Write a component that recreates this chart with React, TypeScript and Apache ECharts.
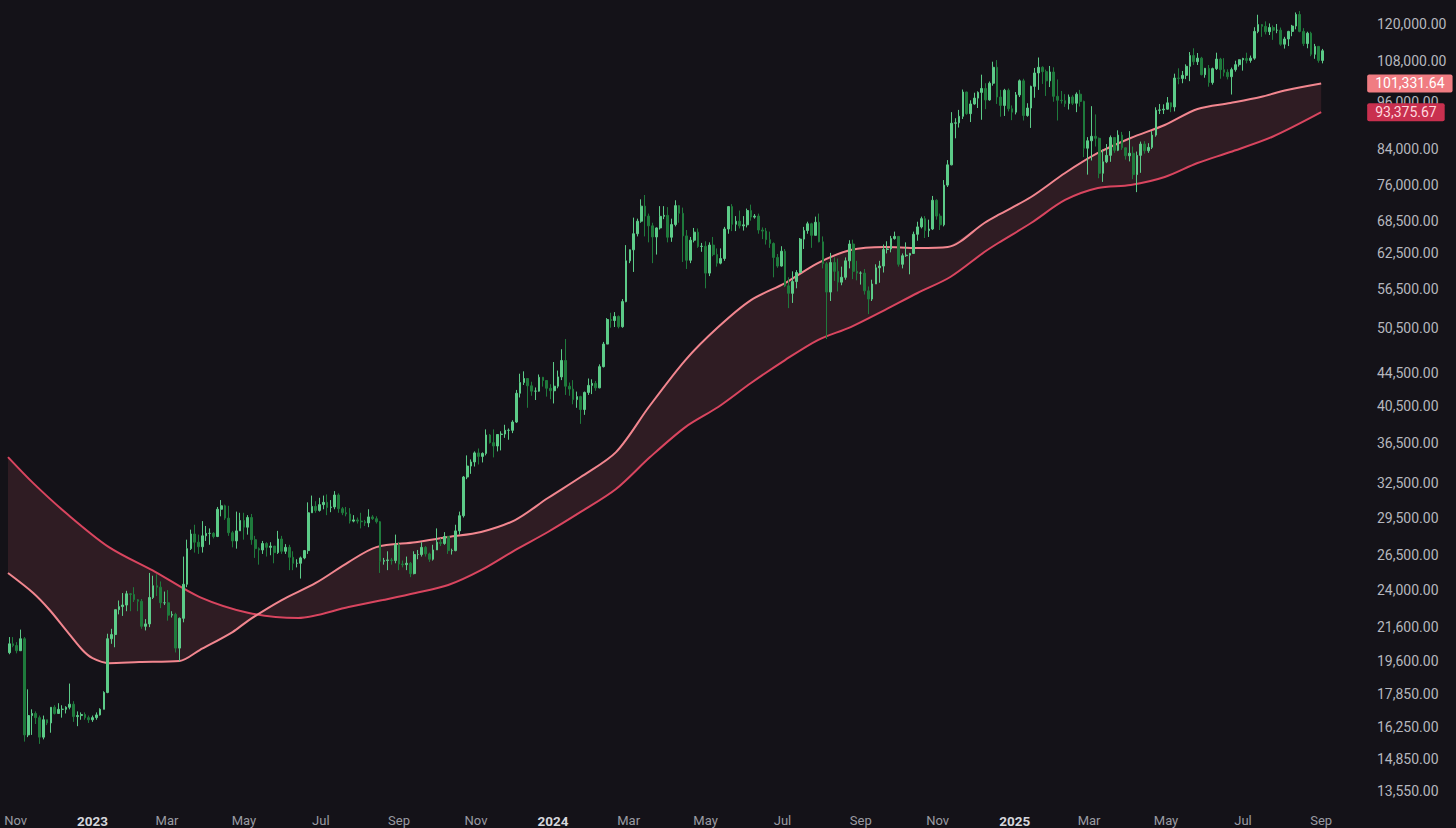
import React, { useEffect, useRef } from "react";
import * as echarts from "echarts";

// ---------- DATA (prices in thousands of USD, 3-day candles from 2022-10-26) ----------
const CANDLE_START = "2022-10-26";
const CANDLE_DAYS = 3;
const FIRST_OPEN = 20.09;

const closes = [
  20.6, 20.5, 20.2, 20.9, 15.9, 16.8, 16.9, 16.7, 15.8, 16.6,
  16.45, 17.2, 16.9, 17.1, 17.1, 17.2, 17.35, 16.75, 16.8, 16.85,
  16.7, 16.6, 16.7, 16.83, 17.1, 17.94, 20.9, 21.15, 22.7, 22.9,
  23.0, 23.75, 23.7, 23.35, 23.25, 21.65, 21.8, 23.5, 24.3, 24.2,
  23.15, 23.15, 22.35, 22.4, 20.35, 22.15, 24.4, 27.0, 28.15, 27.5,
  27.15, 28.0, 28.2, 28.2, 27.95, 30.2, 30.5, 29.45, 28.25, 27.6,
  28.4, 29.25, 28.7, 29.5, 27.7, 27.0, 26.9, 27.4, 27.1, 27.2,
  26.7, 27.75, 26.8, 27.1, 26.35, 25.9, 25.9, 26.3, 26.85, 29.9,
  30.45, 30.1, 30.6, 30.8, 30.35, 30.4, 31.45, 30.25, 29.9, 29.8,
  29.2, 29.3, 29.2, 29.15, 29.05, 29.55, 29.4, 29.15, 26.05, 26.1,
  26.15, 26.1, 27.3, 25.85, 25.8, 25.9, 25.15, 26.55, 26.55, 27.1,
  26.6, 26.2, 26.9, 27.5, 27.4, 27.95, 26.85, 26.85, 28.4, 29.65,
  33.1, 34.15, 34.55, 35.45, 35.1, 35.4, 37.3, 36.5, 36.15, 37.35,
  37.4, 37.8, 37.8, 38.7, 42.0, 43.3, 43.8, 42.9, 42.25, 42.25,
  43.95, 43.55, 42.6, 42.3, 42.85, 44.0, 46.1, 42.85, 42.5, 41.25,
  41.6, 40.1, 42.1, 42.95, 43.2, 42.65, 45.3, 48.3, 51.8, 51.65,
  52.25, 50.75, 54.5, 61.2, 63.15, 66.1, 68.5, 71.5, 69.5, 67.6,
  65.5, 67.2, 69.45, 69.65, 65.45, 67.85, 71.6, 70.05, 65.7, 61.3,
  64.9, 66.4, 63.75, 63.8, 59.1, 64.0, 62.3, 60.8, 61.6, 67.0,
  71.4, 67.9, 68.5, 67.6, 67.8, 70.6, 69.3, 69.5, 66.8, 66.6,
  65.0, 64.3, 61.8, 60.3, 62.9, 57.0, 55.8, 57.7, 59.2, 65.1,
  66.7, 68.0, 65.8, 68.3, 64.6, 60.7, 56.0, 60.9, 59.4, 57.6,
  58.4, 61.2, 64.2, 59.4, 59.1, 59.1, 56.2, 54.9, 57.3, 60.0,
  60.3, 63.2, 63.3, 65.2, 65.6, 60.6, 62.1, 62.2, 62.5, 66.0,
  67.4, 69.0, 66.7, 67.0, 72.7, 69.5, 67.8, 75.9, 80.4, 90.5,
  90.6, 92.3, 98.9, 93.0, 95.6, 97.2, 98.8, 99.9, 96.7, 101.4,
  106.1, 97.5, 95.2, 99.4, 94.3, 93.4, 98.1, 102.1, 92.5, 94.5,
  100.5, 104.4, 106.1, 104.8, 102.1, 104.7, 97.7, 96.6, 96.5, 95.7,
  97.5, 95.8, 98.3, 96.3, 84.3, 86.1, 87.2, 86.7, 78.5, 81.1,
  82.6, 86.9, 83.8, 87.5, 84.4, 82.5, 83.1, 78.2, 82.6, 85.3,
  83.7, 84.5, 87.5, 93.9, 94.0, 94.2, 95.9, 94.8, 102.9, 102.8,
  103.7, 106.4, 109.7, 107.8, 108.9, 103.9, 105.8, 101.6, 105.7, 108.6,
  105.4, 104.6, 103.3, 105.4, 106.9, 108.4, 108.8, 108.2, 108.9, 117.5,
  119.8, 119.2, 117.4, 118.8, 117.9, 117.9, 113.3, 115.0, 117.5, 119.3,
  123.3, 117.5, 113.5, 116.9, 110.1, 112.6, 108.2, 111.2,
];

const highs = [
  21.0, 21.0, 20.7, 21.45, 21.0, 18.1, 17.1, 17.0, 16.8, 16.8,
  16.6, 17.2, 17.3, 17.4, 17.3, 17.25, 18.4, 17.5, 17.0, 16.95,
  16.95, 16.8, 16.8, 16.95, 17.15, 18.0, 21.2, 21.5, 22.7, 23.3,
  23.8, 23.95, 23.8, 24.2, 23.4, 23.4, 22.1, 25.2, 25.0, 25.1,
  24.6, 23.9, 24.0, 22.6, 22.5, 22.2, 26.4, 27.7, 28.5, 28.9,
  28.1, 29.2, 28.8, 28.6, 28.3, 30.4, 31.0, 30.6, 30.5, 28.4,
  30.0, 29.9, 29.9, 29.7, 29.8, 28.0, 27.1, 27.6, 27.5, 27.5,
  27.2, 28.4, 28.0, 27.35, 27.3, 26.8, 26.2, 26.4, 26.9, 30.8,
  31.4, 30.9, 31.2, 31.4, 31.5, 31.0, 31.8, 31.6, 30.4, 30.4,
  30.3, 29.7, 29.5, 29.9, 29.3, 30.2, 29.7, 29.6, 29.2, 26.3,
  26.8, 26.3, 28.1, 27.5, 26.1, 26.4, 26.0, 26.8, 26.9, 27.5,
  27.2, 26.7, 27.3, 28.6, 27.8, 28.3, 28.0, 27.0, 28.9, 30.0,
  33.2, 35.2, 34.8, 35.6, 35.9, 35.5, 37.9, 37.4, 37.9, 37.4,
  37.7, 38.4, 38.0, 38.9, 42.4, 44.4, 44.7, 43.8, 43.4, 42.7,
  44.3, 44.0, 43.6, 43.1, 45.9, 44.8, 47.6, 49.0, 43.3, 43.6,
  42.2, 41.7, 42.2, 43.8, 43.7, 43.5, 45.6, 48.6, 52.0, 52.8,
  52.9, 52.4, 54.9, 64.0, 63.2, 69.2, 69.0, 72.9, 73.8, 70.0,
  68.2, 67.3, 71.5, 71.5, 71.3, 69.0, 72.7, 71.7, 71.2, 66.8,
  65.5, 67.2, 67.1, 64.4, 64.7, 64.5, 65.5, 63.4, 63.4, 67.4,
  71.5, 71.9, 69.5, 70.6, 69.5, 71.0, 71.8, 69.9, 70.0, 67.3,
  67.2, 66.5, 64.5, 62.4, 63.8, 63.3, 58.4, 59.4, 59.6, 65.3,
  67.4, 68.4, 68.2, 69.4, 70.0, 65.6, 61.0, 62.6, 61.8, 61.6,
  60.2, 61.8, 64.9, 65.0, 61.2, 59.4, 59.8, 56.9, 58.0, 60.6,
  61.2, 64.1, 64.7, 65.7, 66.5, 65.6, 62.5, 64.5, 62.6, 66.5,
  68.4, 69.4, 69.5, 68.8, 73.6, 72.9, 70.0, 77.0, 81.5, 93.4,
  91.8, 94.0, 99.6, 99.0, 96.6, 98.7, 99.1, 103.9, 101.4, 101.9,
  107.8, 108.3, 99.5, 99.8, 99.9, 95.2, 98.9, 102.5, 102.7, 95.8,
  100.7, 105.9, 109.1, 106.4, 105.4, 106.5, 106.1, 102.5, 99.2, 98.3,
  98.2, 98.0, 98.8, 99.5, 96.5, 87.0, 95.0, 92.8, 86.9, 84.0,
  85.3, 87.4, 87.0, 88.7, 88.3, 84.5, 88.5, 84.7, 83.5, 85.9,
  86.0, 85.5, 88.5, 94.7, 95.6, 95.5, 97.5, 96.0, 104.2, 105.8,
  105.0, 107.0, 110.8, 112.0, 110.5, 109.3, 105.9, 106.8, 106.0, 110.6,
  109.0, 108.9, 105.5, 106.0, 108.1, 108.5, 109.0, 110.6, 109.7, 118.9,
  123.2, 120.0, 120.9, 120.2, 119.5, 120.0, 118.8, 115.7, 117.7, 119.7,
  124.0, 124.5, 118.6, 117.4, 117.4, 113.4, 112.7, 111.8,
];

const lows = [
  20.0, 20.4, 20.05, 20.2, 15.6, 15.8, 15.9, 16.4, 15.5, 15.7,
  16.35, 16.0, 16.85, 16.9, 16.7, 16.9, 17.1, 16.5, 16.3, 16.6,
  16.6, 16.45, 16.5, 16.6, 16.8, 17.1, 17.9, 20.6, 20.4, 22.4,
  22.3, 22.6, 22.6, 23.2, 22.6, 21.5, 21.4, 21.6, 23.4, 23.6,
  22.8, 23.0, 22.0, 22.2, 20.1, 19.6, 21.9, 24.2, 26.9, 26.7,
  26.6, 26.7, 27.6, 27.3, 27.8, 27.9, 29.6, 29.3, 28.0, 27.1,
  27.0, 28.4, 27.7, 28.1, 27.3, 26.3, 25.8, 26.6, 26.4, 26.5,
  25.9, 26.6, 26.6, 26.6, 25.4, 25.4, 25.6, 24.8, 26.2, 26.6,
  29.9, 29.9, 30.0, 30.2, 29.7, 29.95, 30.2, 29.9, 29.7, 29.6,
  29.0, 29.1, 29.0, 28.6, 28.8, 28.7, 29.3, 29.0, 25.2, 25.8,
  25.4, 25.8, 25.9, 25.4, 25.6, 25.4, 24.9, 25.1, 26.2, 26.4,
  26.4, 26.0, 26.1, 26.9, 27.2, 27.3, 26.6, 26.55, 26.8, 28.1,
  29.5, 32.9, 33.4, 34.1, 34.3, 34.5, 35.2, 36.4, 35.0, 35.6,
  35.7, 37.0, 36.8, 37.5, 38.6, 41.5, 43.0, 40.3, 41.7, 41.2,
  42.2, 42.8, 41.6, 41.3, 40.8, 42.6, 43.6, 41.8, 41.7, 40.7,
  40.3, 38.5, 39.5, 41.8, 41.9, 42.3, 42.6, 45.2, 48.3, 50.6,
  50.7, 50.5, 50.6, 54.4, 60.8, 59.3, 65.6, 68.2, 65.6, 64.5,
  60.8, 62.3, 66.9, 68.9, 64.5, 64.6, 67.5, 68.2, 61.0, 59.8,
  60.8, 64.5, 63.5, 62.8, 56.6, 58.6, 62.0, 60.2, 60.6, 61.2,
  66.1, 66.6, 66.6, 67.1, 66.7, 67.3, 68.6, 69.0, 66.1, 65.1,
  64.1, 63.5, 58.4, 60.0, 60.2, 56.8, 53.5, 54.3, 56.6, 59.1,
  63.3, 66.1, 63.5, 65.8, 64.5, 59.9, 49.0, 54.6, 57.8, 56.1,
  57.1, 58.0, 59.9, 58.1, 57.9, 57.2, 55.6, 52.6, 54.6, 57.3,
  57.5, 59.2, 62.5, 62.7, 65.0, 60.2, 59.9, 61.9, 58.9, 62.4,
  64.8, 67.1, 65.3, 65.5, 66.8, 68.8, 66.8, 67.5, 75.5, 80.3,
  86.7, 89.4, 91.6, 92.7, 90.8, 95.4, 94.5, 91.4, 94.2, 96.5,
  100.7, 95.6, 92.2, 92.4, 93.6, 91.3, 92.8, 97.5, 91.2, 92.2,
  89.3, 97.3, 99.5, 101.2, 97.8, 100.3, 96.2, 91.2, 95.7, 94.8,
  94.1, 95.3, 93.4, 94.9, 82.2, 78.2, 81.4, 84.7, 77.4, 76.6,
  80.8, 81.1, 83.2, 83.6, 83.9, 81.6, 81.2, 77.2, 74.4, 78.6,
  83.0, 83.2, 84.1, 87.1, 92.9, 92.9, 94.1, 93.4, 93.6, 101.1,
  101.4, 102.6, 102.0, 106.8, 106.8, 103.7, 103.0, 100.4, 101.0, 105.3,
  102.7, 103.4, 102.5, 98.2, 104.8, 106.3, 105.1, 107.3, 107.5, 108.4,
  116.9, 115.7, 116.5, 116.3, 114.7, 116.9, 112.8, 111.9, 112.7, 115.9,
  118.2, 117.2, 112.7, 112.0, 109.5, 108.7, 107.5, 107.3,
];

// 200-day SMA (lighter line)
const ma200Dates = [
  "2022-10-26", "2022-11-15", "2022-11-28", "2022-12-11", "2022-12-24", "2023-01-01", "2023-01-14",
  "2023-02-07", "2023-03-11", "2023-03-27", "2023-04-22", "2023-05-05", "2023-05-31", "2023-06-27",
  "2023-07-23", "2023-08-14", "2023-09-14", "2023-10-10", "2023-11-05", "2023-12-02", "2023-12-28",
  "2024-01-23", "2024-02-20", "2024-03-17", "2024-04-15", "2024-05-11", "2024-06-06", "2024-07-03",
  "2024-07-29", "2024-08-24", "2024-09-20", "2024-10-16", "2024-11-09", "2024-12-08", "2024-12-19",
  "2025-01-14", "2025-02-10", "2025-03-08", "2025-04-03", "2025-04-30", "2025-05-26", "2025-06-21",
  "2025-07-15", "2025-08-05", "2025-09-01",
];
const ma200Values = [
  25190, 23800, 22680, 21420, 20240, 19780, 19500,
  19560, 19620, 20240, 21300, 22040, 23330, 24490,
  25990, 27120, 27500, 27910, 28310, 29290, 31180,
  33100, 35530, 40390, 46160, 50700, 54740, 57460,
  60820, 63110, 63650, 63470, 63650, 68150, 69720,
  73380, 78560, 83160, 86790, 90050, 94240, 95860,
  97510, 99470, 101331.64,
];

// 365-day SMA (darker line)
const ma365Dates = [
  "2022-10-26", "2022-11-15", "2022-12-11", "2023-01-14", "2023-02-20", "2023-03-27", "2023-05-05",
  "2023-06-13", "2023-07-23", "2023-08-19", "2023-09-14", "2023-10-10", "2023-11-05", "2023-12-02",
  "2023-12-28", "2024-01-23", "2024-02-20", "2024-03-18", "2024-04-15", "2024-05-11", "2024-06-06",
  "2024-07-03", "2024-07-29", "2024-08-24", "2024-09-20", "2024-10-16", "2024-11-11", "2024-12-08",
  "2024-12-19", "2025-01-14", "2025-02-10", "2025-03-08", "2025-04-03", "2025-04-30", "2025-05-26",
  "2025-06-21", "2025-07-24", "2025-09-01",
];
const ma365Values = [
  35030, 32530, 29880, 27120, 25260, 23530, 22490,
  22170, 22870, 23330, 23800, 24350, 25400, 26890,
  28310, 29970, 31990, 35030, 38150, 40390, 43240,
  46160, 48860, 50700, 53210, 55850, 58450, 62750,
  64380, 68150, 72760, 75280, 75920, 77660, 80820,
  83390, 87020, 93375.67,
];

const yTicks = [
  13550, 14850, 16250, 17850, 19600, 21600, 24000, 26500, 29500, 32500, 36500,
  40500, 44500, 50500, 56500, 62500, 68500, 76000, 84000, 96000, 108000, 120000,
];
const xTicks = [
  "2022-11-01", "2023-01-01", "2023-03-01", "2023-05-01", "2023-07-01", "2023-09-01",
  "2023-11-01", "2024-01-01", "2024-03-01", "2024-05-01", "2024-07-01", "2024-09-01",
  "2024-11-01", "2025-01-01", "2025-03-01", "2025-05-01", "2025-07-01", "2025-09-01",
];
const monthNames = ["Jan", "Feb", "Mar", "Apr", "May", "Jun", "Jul", "Aug", "Sep", "Oct", "Nov", "Dec"];

// axis extents (layout)
const X_MIN = "2022-10-26";
const X_MAX = "2025-09-08";
const Y_MIN = 13214;
const Y_MAX = 128474;

const DAY = 86400000;
const lg = (v: number) => Math.log10(v);
const ts = (s: string) => Date.parse(s + "T00:00:00Z");

const fmtPrice = (v: number) =>
  v.toLocaleString("en-US", { minimumFractionDigits: 2, maximumFractionDigits: 2 });

export default function App() {
  const ref = useRef<HTMLDivElement>(null);

  useEffect(() => {
    if (!ref.current) return;
    const chart = echarts.init(ref.current, undefined, { renderer: "svg" });

    const t0 = ts(CANDLE_START);
    const candleData = closes.map((c, i) => {
      const o = i === 0 ? FIRST_OPEN : closes[i - 1];
      return [
        t0 + (CANDLE_DAYS * i + 1) * DAY,
        lg(o * 1000),
        lg(c * 1000),
        lg(lows[i] * 1000),
        lg(highs[i] * 1000),
      ];
    });
    const ma200Data = ma200Dates.map((d, i) => [ts(d), lg(ma200Values[i])]);
    const ma365Data = ma365Dates.map((d, i) => [ts(d), lg(ma365Values[i])]);

    const fontFamily = "Roboto, 'Noto Sans', sans-serif";

    const priceLabel = (bg: string, color: string) => ({
      show: true,
      distance: 46,
      formatter: (p: any) => fmtPrice(Math.pow(10, p.value[1])),
      backgroundColor: bg,
      color,
      fontFamily,
      fontSize: 14,
      lineHeight: 16,
      padding: [1, 8, 1, 8],
      borderRadius: 2,
    });

    chart.setOption({
      animation: false,
      backgroundColor: "#141218",
      grid: { left: 8, right: 126, top: 0, bottom: 28, containLabel: false, outerBoundsMode: "none" },
      xAxis: {
        type: "value",
        min: ts(X_MIN),
        max: ts(X_MAX),
        axisLine: { show: false },
        axisTick: { show: false },
        splitLine: { show: false },
        axisLabel: {
          customValues: xTicks.map(ts),
          margin: 14,
          color: "#9a9ba2",
          fontFamily,
          fontSize: 13,
          formatter: (v: number) => {
            const d = new Date(v);
            const m = d.getUTCMonth();
            if (m === 0) return "{y|" + d.getUTCFullYear() + "}";
            return monthNames[m];
          },
          rich: {
            y: { fontWeight: "bold", color: "#d6d7dc", fontSize: 13.5, fontFamily },
          },
        },
      },
      yAxis: {
        type: "value",
        position: "right",
        min: lg(Y_MIN),
        max: lg(Y_MAX),
        axisLine: { show: false },
        axisTick: { show: false },
        splitLine: { show: false },
        axisLabel: {
          customValues: yTicks.map(lg),
          align: "left",
          margin: 47,
          color: "#b6b7be",
          fontFamily,
          fontSize: 14,
          formatter: (v: number) => {
            const p = Math.pow(10, v);
            let best = yTicks[0];
            for (const t of yTicks) if (Math.abs(t - p) < Math.abs(best - p)) best = t;
            return fmtPrice(best);
          },
        },
      },
      series: [
        {
          type: "custom",
          z: 1,
          silent: true,
          data: [ma200Data[0]],
          renderItem: (_params: any, api: any) => {
            const pts: number[][] = [];
            ma200Data.forEach((p) => pts.push(api.coord(p)));
            for (let i = ma365Data.length - 1; i >= 0; i--) pts.push(api.coord(ma365Data[i]));
            return {
              type: "polygon",
              shape: { points: pts },
              style: { fill: "rgba(235,100,115,0.13)" },
            };
          },
        },
        {
          type: "line",
          name: "SMA 365",
          z: 2,
          data: ma365Data,
          smooth: 0.3,
          showSymbol: false,
          silent: true,
          lineStyle: { color: "#d9455f", width: 2 },
          endLabel: priceLabel("#c9304f", "#ffd9df"),
        },
        {
          type: "line",
          name: "SMA 200",
          z: 2,
          data: ma200Data,
          smooth: 0.3,
          showSymbol: false,
          silent: true,
          lineStyle: { color: "#f2868f", width: 2 },
          endLabel: priceLabel("#f07c82", "#ffffff"),
        },
        {
          type: "candlestick",
          z: 3,
          data: candleData,
          barWidth: 2.2,
          silent: true,
          itemStyle: {
            color: "#5ccb88",
            color0: "#1f7a3c",
            borderColor: "#5ccb88",
            borderColor0: "#1f7a3c",
            borderWidth: 1,
          },
        },
      ],
    });

    return () => chart.dispose();
  }, []);

  return (
    <div
      ref={ref}
      style={{ position: "fixed", left: 0, top: 0, width: 1456, height: 828, background: "#141218" }}
    />
  );
}
